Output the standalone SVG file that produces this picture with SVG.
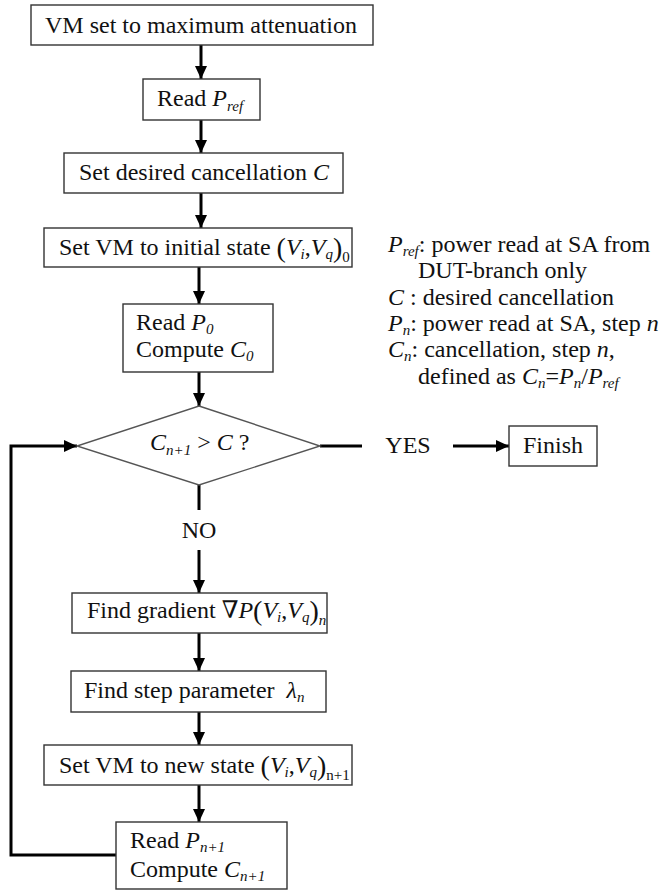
<svg xmlns="http://www.w3.org/2000/svg" width="663" height="893" viewBox="0 0 663 893">
<defs>
<marker id="ah" markerUnits="userSpaceOnUse" markerWidth="14" markerHeight="12" refX="13" refY="6" orient="auto">
<path d="M0,0 L13,6 L0,12 Z" fill="#000"/>
</marker>
<style>
.box{fill:#fff;stroke:#333;stroke-width:1.4}
.dia{fill:#fff;stroke:#555;stroke-width:1.4}
.t{font-size:24px;fill:#111}
.i{font-style:italic}
.sub{font-size:15px;font-style:italic}
.subr{font-size:15px}
.par{font-size:28px}
.c{fill:none;stroke:#000;stroke-width:3}
</style>
</defs>
<rect width="663" height="893" fill="#fff"/>
<g font-family="Liberation Serif, DejaVu Serif, serif">
<g id="connectors">
<line class="c" x1="201" y1="45" x2="201" y2="79" marker-end="url(#ah)"/>
<line class="c" x1="201" y1="120" x2="201" y2="153" marker-end="url(#ah)"/>
<line class="c" x1="201" y1="193" x2="201" y2="228" marker-end="url(#ah)"/>
<line class="c" x1="199" y1="267" x2="199" y2="304" marker-end="url(#ah)"/>
<line class="c" x1="199" y1="372" x2="199" y2="406" marker-end="url(#ah)"/>
<line class="c" x1="320" y1="446" x2="362" y2="446"/>
<line class="c" x1="453" y1="446" x2="509" y2="446" marker-end="url(#ah)"/>
<line class="c" x1="199" y1="485" x2="199" y2="510"/>
<line class="c" x1="199" y1="550" x2="199" y2="593" marker-end="url(#ah)"/>
<line class="c" x1="199" y1="633" x2="199" y2="671" marker-end="url(#ah)"/>
<line class="c" x1="199" y1="712" x2="199" y2="745" marker-end="url(#ah)"/>
<line class="c" x1="199" y1="785" x2="199" y2="822" marker-end="url(#ah)"/>
<polyline class="c" points="116,855 11,855 11,446 77,446" marker-end="url(#ah)"/>
<text class="t" x="408" y="453" text-anchor="middle">YES</text>
<text class="t" x="199" y="538" text-anchor="middle">NO</text>
</g>
<g id="n1">
<rect class="box" x="31" y="5" width="342" height="40"/>
<text class="t" x="45" y="33">VM set to maximum attenuation</text>
</g>
<g id="n2">
<rect class="box" x="143" y="79" width="117" height="41"/>
<text class="t" x="157" y="106">Read <tspan class="i">P</tspan><tspan class="sub" dy="5">ref</tspan></text>
</g>
<g id="n3">
<rect class="box" x="64" y="153" width="279" height="40"/>
<text class="t" x="79" y="180">Set desired cancellation <tspan class="i">C</tspan></text>
</g>
<g id="n4">
<rect class="box" x="44" y="228" width="308" height="39"/>
<text class="t" x="59" y="255">Set VM to initial state <tspan class="par" dy="2">(</tspan><tspan class="i" dy="-2">V</tspan><tspan class="sub" dy="4">i</tspan><tspan dy="-4">,</tspan><tspan class="i">V</tspan><tspan class="sub" dy="4">q</tspan><tspan class="par" dy="-2">)</tspan><tspan class="subr" dy="5">0</tspan></text>
</g>
<g id="n5">
<rect class="box" x="123" y="304" width="150" height="68"/>
<text class="t" x="136" y="330">Read <tspan class="i">P</tspan><tspan class="sub" dy="4">0</tspan></text>
<text class="t" x="136" y="357">Compute <tspan class="i">C</tspan><tspan class="sub" dy="4">0</tspan></text>
</g>
<g id="n6">
<polygon class="dia" points="199,406 320,446 199,485 77,446"/>
<text class="t" x="150" y="450"><tspan class="i">C</tspan><tspan class="sub" dy="5">n+1</tspan><tspan dy="-5"> &gt; </tspan><tspan class="i">C</tspan> ?</text>
</g>
<g id="n7">
<rect class="box" x="509" y="426" width="88" height="40"/>
<text class="t" x="553" y="453" text-anchor="middle">Finish</text>
</g>
<g id="n8">
<rect class="box" x="72" y="593" width="255" height="40"/>
<text class="t" x="87" y="618">Find gradient ∇<tspan class="i">P</tspan><tspan class="par" dy="2">(</tspan><tspan class="i" dy="-2">V</tspan><tspan class="sub" dy="4">i</tspan><tspan dy="-4">,</tspan><tspan class="i">V</tspan><tspan class="sub" dy="4">q</tspan><tspan class="par" dy="-2">)</tspan><tspan class="sub" dy="5">n</tspan></text>
</g>
<g id="n9">
<rect class="box" x="71" y="671" width="255" height="41"/>
<text class="t" x="84" y="698" xml:space="preserve">Find step parameter  <tspan class="i">λ</tspan><tspan class="sub" dy="4">n</tspan></text>
</g>
<g id="n10">
<rect class="box" x="44" y="745" width="308" height="40"/>
<text class="t" x="59" y="773">Set VM to new state <tspan class="par" dy="2">(</tspan><tspan class="i" dy="-2">V</tspan><tspan class="sub" dy="4">i</tspan><tspan dy="-4">,</tspan><tspan class="i">V</tspan><tspan class="sub" dy="4">q</tspan><tspan class="par" dy="-2">)</tspan><tspan class="subr" dy="5">n+1</tspan></text>
</g>
<g id="n11">
<rect class="box" x="116" y="822" width="171" height="67"/>
<text class="t" x="130" y="848">Read <tspan class="i">P</tspan><tspan class="sub" dy="4">n+1</tspan></text>
<text class="t" x="130" y="877">Compute <tspan class="i">C</tspan><tspan class="sub" dy="4">n+1</tspan></text>
</g>
<g id="legend">
<text class="t" x="388" y="252"><tspan class="i">P</tspan><tspan class="sub" dy="4">ref</tspan><tspan dy="-4">: power read at SA from</tspan></text>
<text class="t" x="418" y="278">DUT-branch only</text>
<text class="t" x="388" y="305"><tspan class="i">C</tspan> : desired cancellation</text>
<text class="t" x="388" y="331"><tspan class="i">P</tspan><tspan class="sub" dy="4">n</tspan><tspan dy="-4">: power read at SA, step </tspan><tspan class="i">n</tspan></text>
<text class="t" x="388" y="357"><tspan class="i">C</tspan><tspan class="sub" dy="4">n</tspan><tspan dy="-4">: cancellation, step </tspan><tspan class="i">n</tspan>,</text>
<text class="t" x="418" y="384">defined as <tspan class="i">C</tspan><tspan class="sub" dy="4">n</tspan><tspan dy="-4">=</tspan><tspan class="i">P</tspan><tspan class="sub" dy="4">n</tspan><tspan dy="-4">/</tspan><tspan class="i">P</tspan><tspan class="sub" dy="4">ref</tspan></text>
</g>
</g>
</svg>
